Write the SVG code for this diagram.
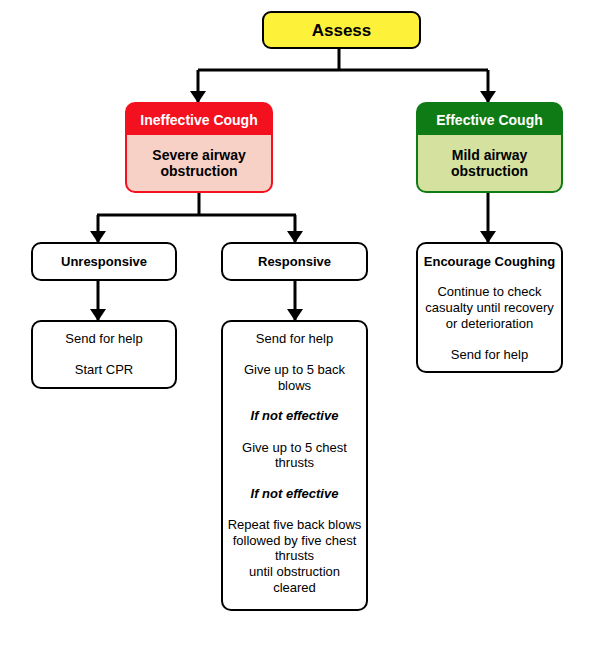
<svg xmlns="http://www.w3.org/2000/svg" width="592" height="645" viewBox="0 0 592 645">
<defs>
<marker id="arr" markerUnits="userSpaceOnUse" markerWidth="12" markerHeight="16" refX="12" refY="8" orient="auto" viewBox="0 0 12 16">
<path d="M0,0 L12,8 L0,16 Z" fill="#000"/>
</marker>
</defs>
<style>
text{font-family:"Liberation Sans",Arial,sans-serif;text-anchor:middle;fill:#000}
.box{fill:#fff;stroke:#000;stroke-width:2}
.b{font-weight:bold}
.t12{font-size:13px}
.t13{font-size:14px;font-weight:bold}
.bi{font-weight:bold;font-style:italic}
.w{fill:#fff}
.c{fill:none;stroke:#000;stroke-width:3}
</style>
<rect width="592" height="645" fill="#fff"/>
<g id="connectors">
<path class="c" d="M339,48 V70 M198,70 H488" />
<path class="c" d="M198,70 V103" marker-end="url(#arr)"/>
<path class="c" d="M488,70 V103" marker-end="url(#arr)"/>
<path class="c" d="M199,192 V215 M97,215 H296"/>
<path class="c" d="M98,215 V243" marker-end="url(#arr)"/>
<path class="c" d="M295,215 V243" marker-end="url(#arr)"/>
<path class="c" d="M98,280 V321" marker-end="url(#arr)"/>
<path class="c" d="M295,280 V321" marker-end="url(#arr)"/>
<path class="c" d="M488,192 V243" marker-end="url(#arr)"/>
</g>
<g id="assess">
<rect x="263" y="12" width="157" height="36" rx="8" fill="#FDF13A" stroke="#000" stroke-width="2"/>
<text x="341.5" y="36" style="font-size:17px" class="b">Assess</text>
</g>
<g id="ineffective">
<rect x="126" y="103" width="146" height="89" rx="9" fill="#F8D1C6"/>
<path d="M126,135 V112 a9,9 0 0 1 9,-9 H263 a9,9 0 0 1 9,9 V135 Z" fill="#F4111F"/>
<rect x="126" y="103" width="146" height="89" rx="9" fill="none" stroke="#F4111F" stroke-width="2"/>
<text x="199" y="125" class="t13 w">Ineffective Cough</text>
<text x="199" y="160" class="t13">Severe airway</text>
<text x="199" y="176" class="t13">obstruction</text>
</g>
<g id="effective">
<rect x="417" y="103" width="145" height="89" rx="9" fill="#D5E19E"/>
<path d="M417,135 V112 a9,9 0 0 1 9,-9 H553 a9,9 0 0 1 9,9 V135 Z" fill="#0F7B14"/>
<rect x="417" y="103" width="145" height="89" rx="9" fill="none" stroke="#0F7B14" stroke-width="2"/>
<text x="489.5" y="125" class="t13 w">Effective Cough</text>
<text x="489.5" y="160" class="t13">Mild airway</text>
<text x="489.5" y="176" class="t13">obstruction</text>
</g>
<g id="unresponsive">
<rect class="box" x="32" y="243" width="144" height="37" rx="9"/>
<text x="104" y="266" class="t12 b">Unresponsive</text>
</g>
<g id="responsive">
<rect class="box" x="222" y="243" width="145" height="37" rx="9"/>
<text x="294.5" y="266" class="t12 b">Responsive</text>
</g>
<g id="cpr">
<rect class="box" x="32" y="321" width="144" height="67" rx="9"/>
<text x="104" y="343" class="t12">Send for help</text>
<text x="104" y="374" class="t12">Start CPR</text>
</g>
<g id="responsive-steps">
<rect class="box" x="222" y="321" width="145" height="289" rx="9"/>
<text x="294.5" y="343" class="t12">Send for help</text>
<text x="294.5" y="374" class="t12">Give up to 5 back</text>
<text x="294.5" y="390" class="t12">blows</text>
<text x="294.5" y="420" class="t12 bi">If not effective</text>
<text x="294.5" y="452" class="t12">Give up to 5 chest</text>
<text x="294.5" y="467" class="t12">thrusts</text>
<text x="294.5" y="498" class="t12 bi">If not effective</text>
<text x="294.5" y="529" class="t12">Repeat five back blows</text>
<text x="294.5" y="545" class="t12">followed by five chest</text>
<text x="294.5" y="560" class="t12">thrusts</text>
<text x="294.5" y="576" class="t12">until obstruction</text>
<text x="294.5" y="592" class="t12">cleared</text>
</g>
<g id="encourage">
<rect class="box" x="417" y="243" width="145" height="129" rx="9"/>
<text x="489.5" y="266" class="t12 b">Encourage Coughing</text>
<text x="489.5" y="296" class="t12">Continue to check</text>
<text x="489.5" y="312" class="t12">casualty until recovery</text>
<text x="489.5" y="328" class="t12">or deterioration</text>
<text x="489.5" y="359" class="t12">Send for help</text>
</g>
</svg>
